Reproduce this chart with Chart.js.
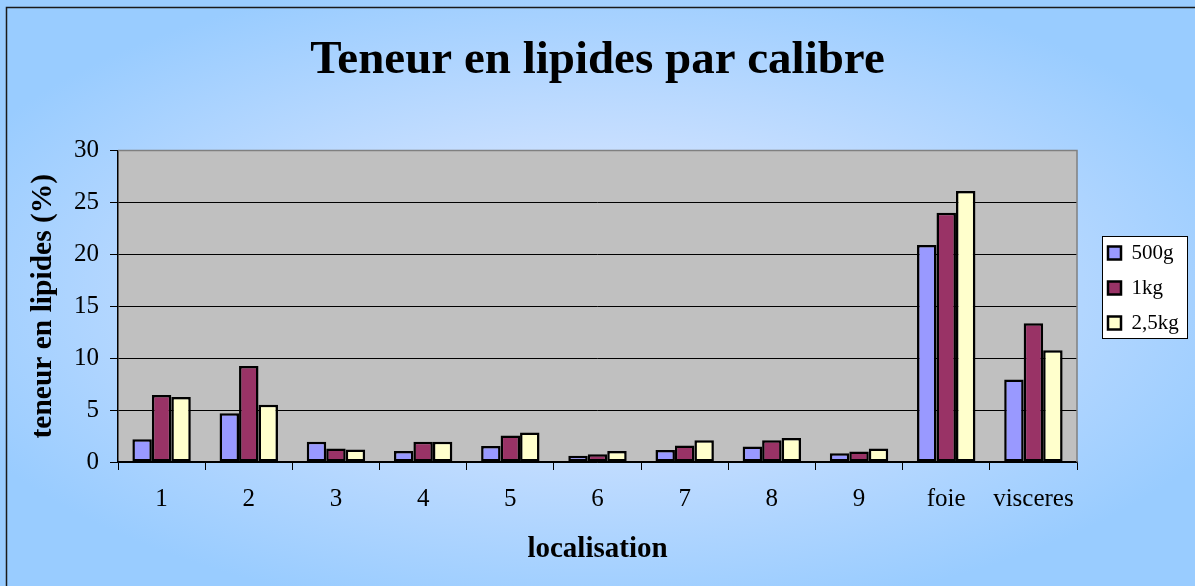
<!DOCTYPE html>
<html>
<head>
<meta charset="utf-8">
<script src="https://cdn.jsdelivr.net/npm/chart.js@4"></script>
<style>
  html, body { margin: 0; padding: 0; background: #99CCFF; }
  #wrap { width: 1195px; height: 586px; }
</style>
</head>
<body>
<div id="wrap"><canvas id="chartLipides"></canvas></div>
<script>
// donnees
const localisations = ['1', '2', '3', '4', '5', '6', '7', '8', '9', 'foie', 'visceres'];
const calibre500g = [2.2, 4.7, 1.95, 1.05, 1.55, 0.6, 1.15, 1.5, 0.85, 20.9, 7.95];
const calibre1kg = [6.45, 9.25, 1.3, 1.95, 2.55, 0.75, 1.6, 2.1, 1.0, 24.0, 13.35];
const calibre25kg = [6.25, 5.5, 1.2, 1.95, 2.85, 1.05, 2.1, 2.3, 1.3, 26.1, 10.75];
const yTicks = [0, 5, 10, 15, 20, 25, 30];

const serif = "'Liberation Serif', 'Times New Roman', serif";

// fond, zone grise, cadre de legende
const decor = {
  id: 'decor',
  afterInit(chart) {
    // largeur fixe pour la legende
    const lg = chart.legend;
    const fitOrig = lg.fit.bind(lg);
    lg.fit = function () {
      fitOrig();
      this.width = 110;
    };
  },
  afterLayout(chart) {
    const lg = chart.legend;
    const w = lg.right - lg.left;
    lg.left = 1094; lg.right = 1094 + w;
    lg.top = 133; lg.bottom = 443;
  },
  beforeDraw(chart) {
    const ctx = chart.ctx;
    const a = chart.chartArea;
    ctx.save();
    // degrade bleu
    ctx.translate(597, 293);
    ctx.scale(700, 330);
    const g = ctx.createRadialGradient(0, 0, 0, 0, 0, 1);
    g.addColorStop(0, '#DDEBFF');
    g.addColorStop(0.45, '#C6DEFF');
    g.addColorStop(1, '#99CCFF');
    ctx.fillStyle = g;
    ctx.fillRect(-2, -2, 4, 4);
    ctx.restore();

    ctx.save();
    // bord exterieur (gauche et haut seulement visibles)
    ctx.strokeStyle = '#1a1a1a';
    ctx.lineWidth = 1.5;
    ctx.beginPath();
    ctx.moveTo(6.5, 600);
    ctx.lineTo(6.5, 7.5);
    ctx.lineTo(1200, 7.5);
    ctx.stroke();

    // zone de trace
    ctx.fillStyle = '#C0C0C0';
    ctx.fillRect(a.left, a.top, a.right - a.left, a.bottom - a.top);

    // cadre de legende
    ctx.fillStyle = '#FFFFFF';
    ctx.fillRect(1102, 236, 85, 102);
    ctx.strokeStyle = '#000000';
    ctx.lineWidth = 1;
    ctx.strokeRect(1102.5, 236.5, 85, 102);
    ctx.restore();
  },
  afterDraw(chart) {
    const ctx = chart.ctx;
    const a = chart.chartArea;
    ctx.save();
    ctx.strokeStyle = '#808080';
    ctx.lineWidth = 1.5;
    ctx.beginPath();
    ctx.moveTo(a.left, a.top);
    ctx.lineTo(a.right, a.top);
    ctx.lineTo(a.right, a.bottom);
    ctx.stroke();
    ctx.restore();
  }
};

const data = {
  labels: localisations,
  datasets: [{
    label: '500g',
    backgroundColor: '#9999FF',
    borderColor: '#000000',
    borderWidth: 2.5,
    borderSkipped: false,
    data: calibre500g
  }, {
    label: '1kg',
    backgroundColor: '#993366',
    borderColor: '#000000',
    borderWidth: 2.5,
    borderSkipped: false,
    data: calibre1kg
  }, {
    label: '2,5kg',
    backgroundColor: '#FFFFCC',
    borderColor: '#000000',
    borderWidth: 2.5,
    borderSkipped: false,
    data: calibre25kg
  }]
};

const config = {
  type: 'bar',
  data: data,
  plugins: [decor],
  options: {
    responsive: true,
    maintainAspectRatio: false,
    animation: false,
    layout: { padding: { left: 8, right: 8, top: 8, bottom: 8 } },
    datasets: {
      bar: { categoryPercentage: 0.67, barPercentage: 1.0 }
    },
    plugins: {
      title: {
        display: true,
        text: 'Teneur en lipides par calibre',
        color: '#000000',
        font: { family: serif, size: 47, weight: 'bold' },
        padding: { top: 25, bottom: 61 }
      },
      legend: {
        position: 'right',
        labels: {
          color: '#000000',
          font: { family: serif, size: 21 },
          boxWidth: 13,
          boxHeight: 13,
          padding: 14
        }
      },
      tooltip: { enabled: false }
    },
    scales: {
      x: {
        afterFit: s => { s.height = 116; },
        grid: {
          offset: true,
          drawOnChartArea: false,
          color: '#000000',
          tickColor: '#000000',
          tickLength: 8
        },
        border: { color: '#000000', width: 1.5 },
        ticks: {
          color: '#000000',
          font: { family: serif, size: 25 },
          padding: 14
        },
        title: {
          display: true,
          text: 'localisation',
          color: '#000000',
          font: { family: serif, size: 29, weight: 'bold' },
          padding: { top: 0, bottom: 11 }
        }
      },
      y: {
        min: 0,
        max: 30,
        afterFit: s => { s.width = 110; },
        afterBuildTicks: s => { s.ticks = yTicks.map(v => ({ value: v })); },
        grid: {
          color: ctx => (ctx.tick && ctx.tick.value === 30) ? '#808080' : '#000000',
          tickColor: '#000000',
          lineWidth: 1,
          tickLength: 8
        },
        border: { color: '#000000', width: 1.5 },
        ticks: {
          color: '#000000',
          font: { family: serif, size: 25 },
          padding: 11
        },
        title: {
          display: true,
          text: 'teneur en lipides (%)',
          color: '#000000',
          font: { family: serif, size: 29.5, weight: 'bold' },
          padding: { top: 18, bottom: 0 }
        }
      }
    }
  }
};

window.chartLipides = new Chart(document.getElementById('chartLipides'), config);
</script>
</body>
</html>
